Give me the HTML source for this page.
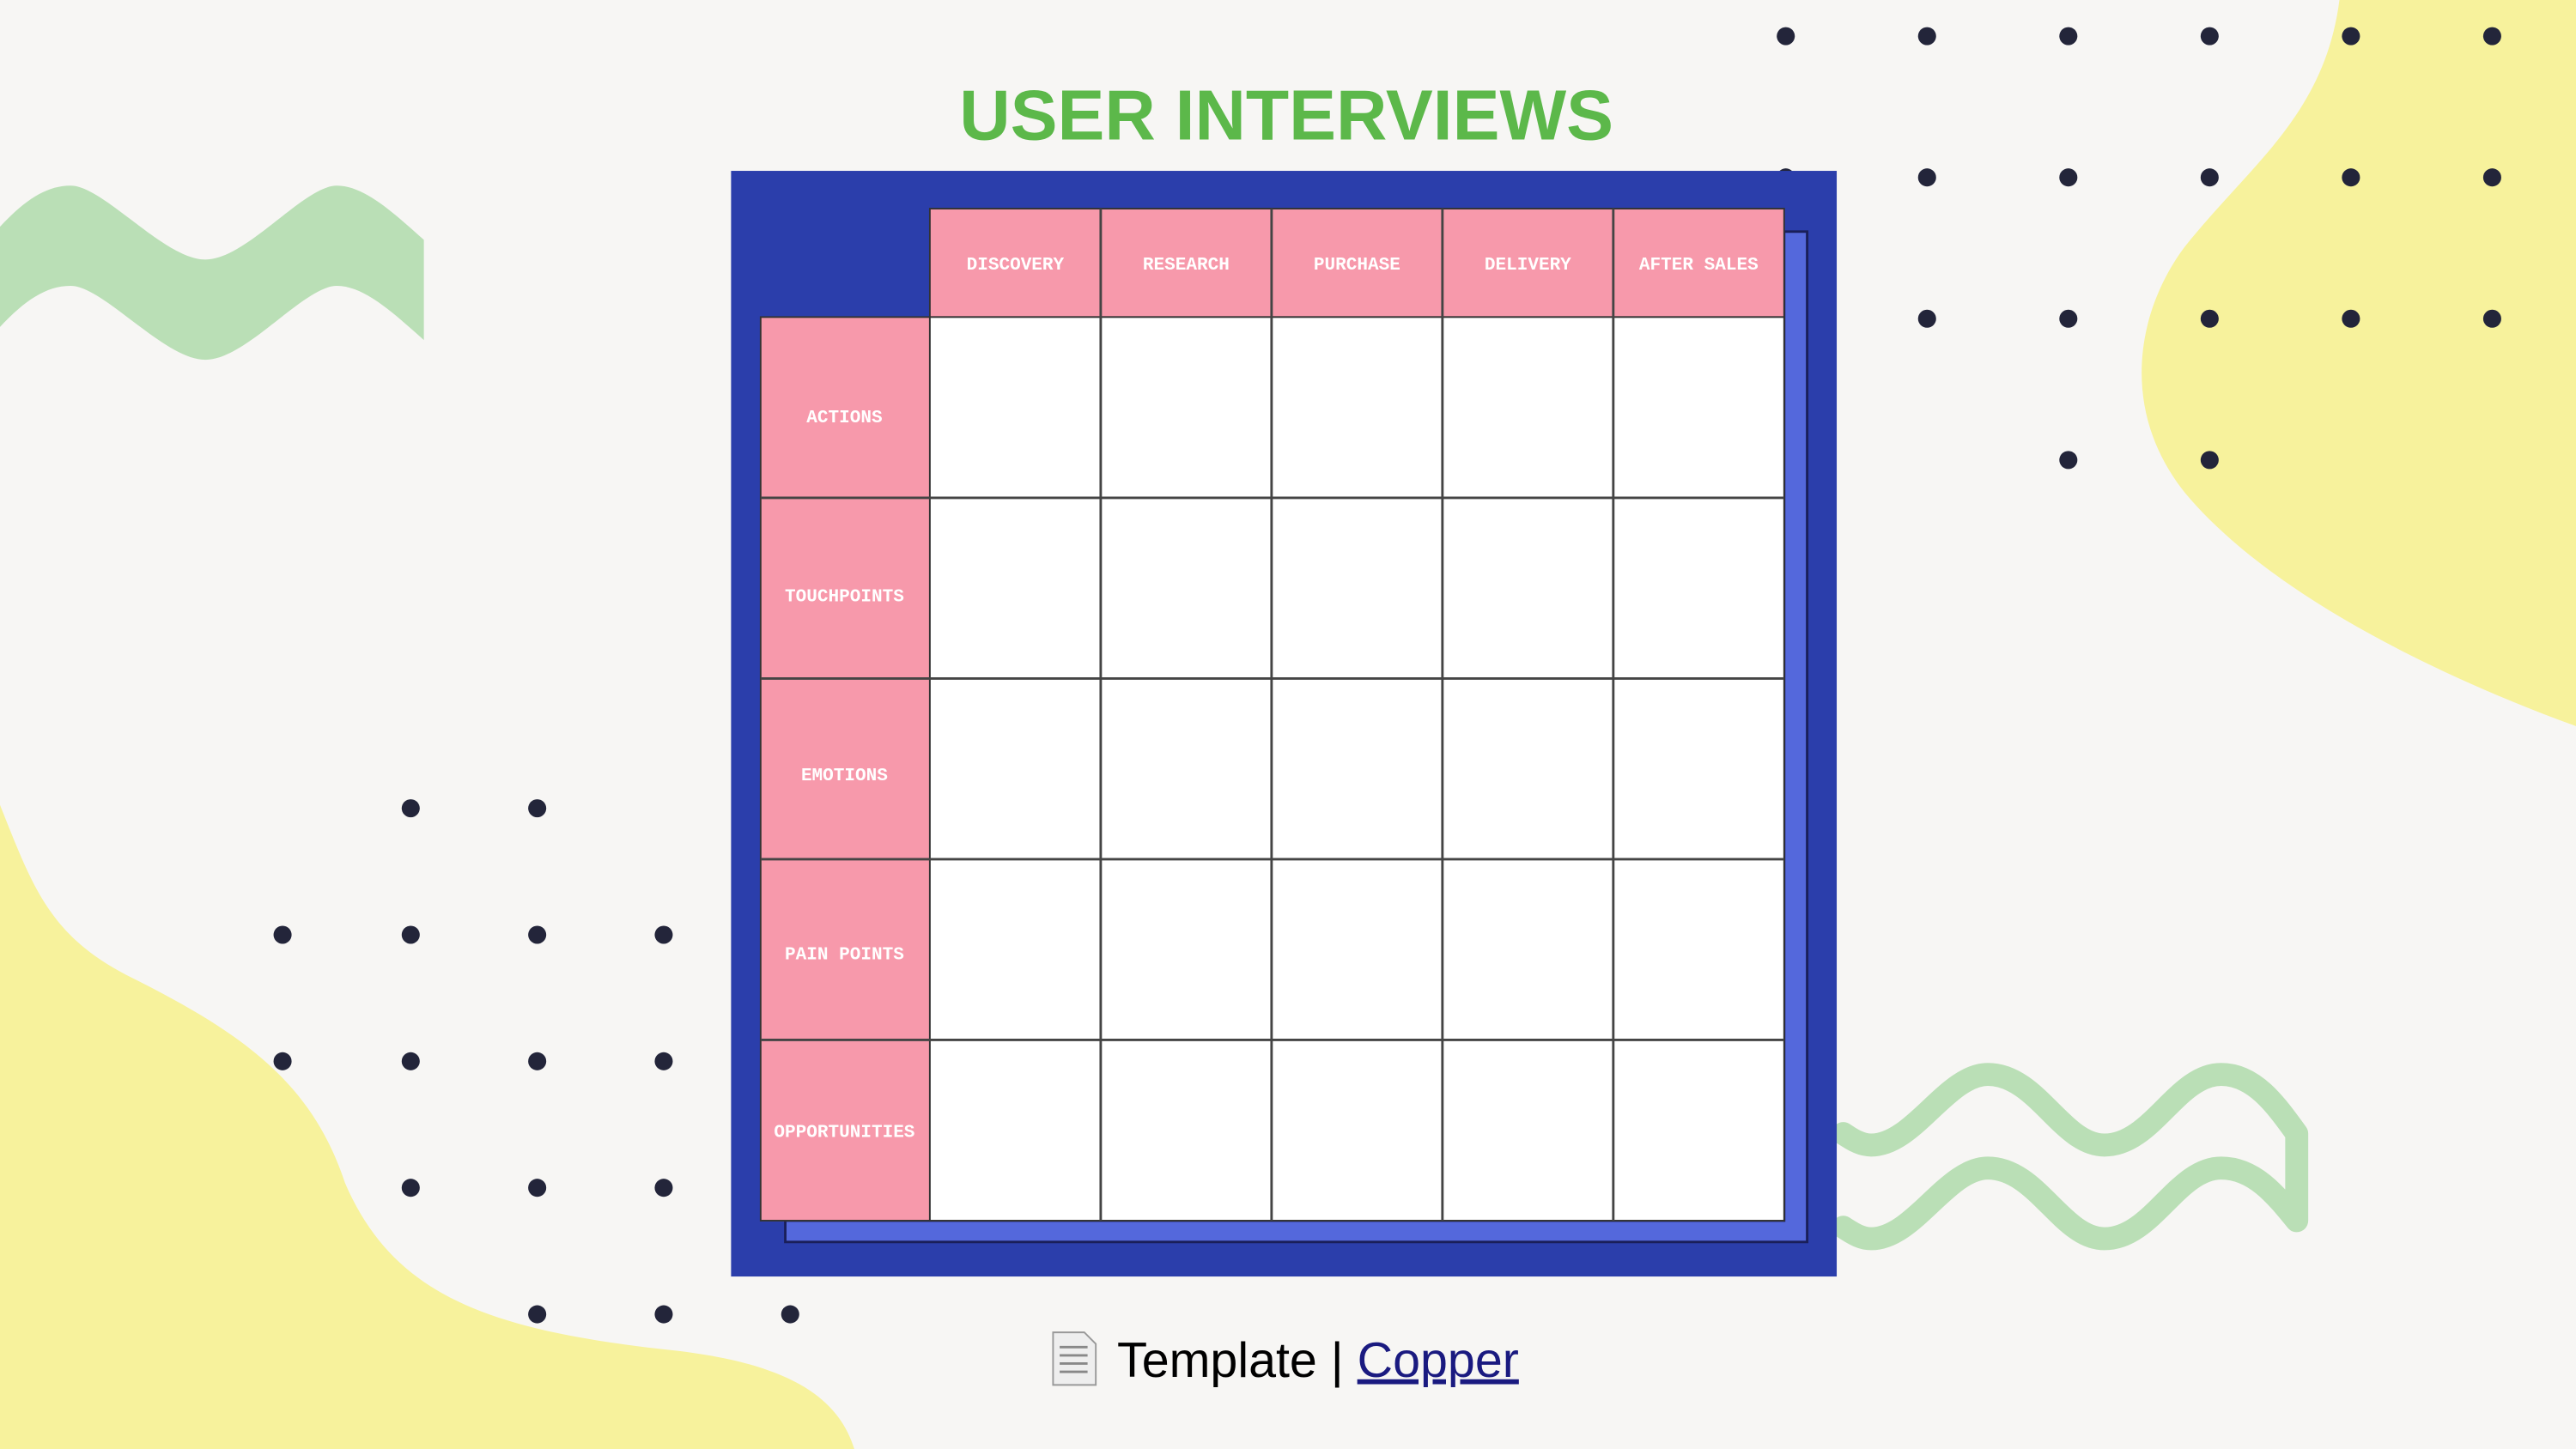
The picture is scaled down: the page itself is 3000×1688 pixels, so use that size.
<!DOCTYPE html>
<html><head><meta charset="utf-8"><style>
html,body{margin:0;padding:0;background:#f7f6f4;}
svg{display:block;}
</style></head><body>
<svg width="3000" height="1688" viewBox="0 0 1568 882" preserveAspectRatio="none" xmlns="http://www.w3.org/2000/svg">
<rect width="1568" height="882" fill="#f7f6f4"/>
<path d="M1424,0 L1568,0 L1568,442 C1480,410 1380,360 1330,300 C1290,250 1300,190 1330,150 C1370,100 1415,70 1424,0 Z" fill="#f7f29c"/>
<path d="M0,490 C20,540 30,570 80,595 C150,630 190,660 210,720 C240,790 300,810 410,822 C480,830 510,850 520,882 L0,882 Z" fill="#f7f29c"/>
<path d="M0,138 C15,122 28,113 43,113 C63,113 100,158 125,158 C150,158 185,113 205,113 C222,113 240,130 258,146 L258,207 C240,191 222,174 205,174 C185,174 150,219 125,219 C100,219 63,174 43,174 C28,174 15,183 0,199 Z" fill="#badfb6"/>
<g fill="none" stroke="#badfb6" stroke-width="14" stroke-linejoin="round" stroke-linecap="round">
<path d="M1122,690 C1128,694 1133,697 1139,697 C1165,697 1185,654 1210,654 C1240,654 1255,697 1281,697 C1310,697 1325,654 1352,654 C1372,654 1385,672 1398,690 L1398,743 C1385,727 1372,711 1352,711 C1325,711 1310,754 1281,754 C1255,754 1240,711 1210,711 C1185,711 1165,754 1139,754 C1133,754 1128,751 1122,747"/>
</g>
<g fill="#23253a">
<circle cx="1087" cy="22" r="5.5"/><circle cx="1173" cy="22" r="5.5"/><circle cx="1259" cy="22" r="5.5"/><circle cx="1345" cy="22" r="5.5"/><circle cx="1431" cy="22" r="5.5"/><circle cx="1517" cy="22" r="5.5"/>
<circle cx="1087" cy="108" r="5.5"/><circle cx="1173" cy="108" r="5.5"/><circle cx="1259" cy="108" r="5.5"/><circle cx="1345" cy="108" r="5.5"/><circle cx="1431" cy="108" r="5.5"/><circle cx="1517" cy="108" r="5.5"/>
<circle cx="1173" cy="194" r="5.5"/><circle cx="1259" cy="194" r="5.5"/><circle cx="1345" cy="194" r="5.5"/><circle cx="1431" cy="194" r="5.5"/><circle cx="1517" cy="194" r="5.5"/>
<circle cx="1259" cy="280" r="5.5"/><circle cx="1345" cy="280" r="5.5"/>
<circle cx="250" cy="492" r="5.5"/><circle cx="327" cy="492" r="5.5"/>
<circle cx="172" cy="569" r="5.5"/><circle cx="250" cy="569" r="5.5"/><circle cx="327" cy="569" r="5.5"/><circle cx="404" cy="569" r="5.5"/>
<circle cx="172" cy="646" r="5.5"/><circle cx="250" cy="646" r="5.5"/><circle cx="327" cy="646" r="5.5"/><circle cx="404" cy="646" r="5.5"/>
<circle cx="250" cy="723" r="5.5"/><circle cx="327" cy="723" r="5.5"/><circle cx="404" cy="723" r="5.5"/>
<circle cx="327" cy="800" r="5.5"/><circle cx="404" cy="800" r="5.5"/><circle cx="481" cy="800" r="5.5"/>
</g>
<text x="783" y="85" text-anchor="middle" font-family="Liberation Sans, sans-serif" font-weight="bold" font-size="43" fill="#5cb84a">USER INTERVIEWS</text>
<rect x="445" y="104" width="673" height="673" fill="#2b3eab"/>
<path d="M1086,141 L1100,141 L1100,756 L478,756 L478,743 L1086,743 Z" fill="#5468dc" stroke="#1a1f5a" stroke-width="1.5"/>
<rect x="566" y="127" width="520" height="66" fill="#f799ab" stroke="#333" stroke-width="1"/>
<rect x="463" y="193" width="103" height="550" fill="#f799ab" stroke="#333" stroke-width="1"/>
<rect x="566" y="193" width="520" height="550" fill="#ffffff" stroke="#333" stroke-width="1"/>
<g stroke="#444" stroke-width="1.5">
<line x1="670" y1="127" x2="670" y2="743"/><line x1="774" y1="127" x2="774" y2="743"/><line x1="878" y1="127" x2="878" y2="743"/><line x1="982" y1="127" x2="982" y2="743"/>
<line x1="463" y1="303" x2="1086" y2="303"/><line x1="463" y1="413" x2="1086" y2="413"/><line x1="463" y1="523" x2="1086" y2="523"/><line x1="463" y1="633" x2="1086" y2="633"/>
</g>
<g font-family="Liberation Mono, monospace" font-weight="bold" font-size="11" fill="#ffffff" text-anchor="middle">
<text x="618" y="164">DISCOVERY</text><text x="722" y="164">RESEARCH</text><text x="826" y="164">PURCHASE</text><text x="930" y="164">DELIVERY</text><text x="1034" y="164">AFTER SALES</text>
<text x="514" y="257">ACTIONS</text><text x="514" y="366">TOUCHPOINTS</text><text x="514" y="475">EMOTIONS</text><text x="514" y="584">PAIN POINTS</text><text x="514" y="692">OPPORTUNITIES</text>
</g>
<path d="M641,811 L660,811 L667,818 L667,843 L641,843 Z" fill="#eeeeee" stroke="#999" stroke-width="1"/>
<g stroke="#888" stroke-width="1.5"><line x1="645" y1="820" x2="662" y2="820"/><line x1="645" y1="825" x2="662" y2="825"/><line x1="645" y1="830" x2="662" y2="830"/><line x1="645" y1="835" x2="662" y2="835"/></g>
<text x="680" y="838" font-family="Liberation Sans, sans-serif" font-size="30" fill="#000">Template | <tspan fill="#1a1a80" text-decoration="underline">Copper</tspan></text>
</svg>
</body></html>
